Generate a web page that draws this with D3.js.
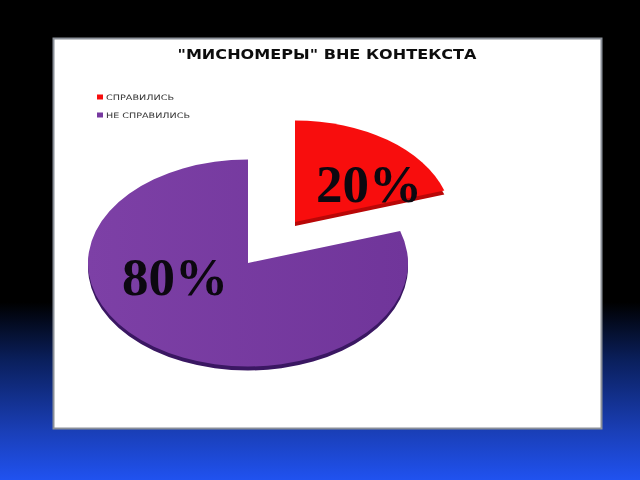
<!DOCTYPE html>
<html>
<head>
<meta charset="utf-8">
<script src="https://cdn.jsdelivr.net/npm/d3@7"></script>
<style>html,body{margin:0;padding:0;background:#000;overflow:hidden}svg{display:block}</style>
</head>
<body>
<script>
const categories = ["СПРАВИЛИСЬ", "НЕ СПРАВИЛИСЬ"];
const values = [20, 80];
const valueLabels = ["20%", "80%"];
const colors = ["#f80d0d", "url(#purple)"];
const swatches = ["#f80d0d", "#7739a0"];
const rimColors = ["#b90707", "#3a1762"];
const titleText = '"МИСНОМЕРЫ" ВНЕ КОНТЕКСТА';

const svg = d3.select("body").append("svg").attr("width", 640).attr("height", 480);
const defs = svg.append("defs");
const bg = defs.append("linearGradient").attr("id", "bg").attr("x1", 0).attr("x2", 0).attr("y1", 0).attr("y2", 1);
[[0, "#000"], [0.63, "#000"], [0.75, "#0a1f5c"], [0.9, "#1a3fb8"], [1, "#2052f0"]]
  .forEach(([o, c]) => bg.append("stop").attr("offset", o).attr("stop-color", c));
const pg = defs.append("linearGradient").attr("id", "purple").attr("x1", 0).attr("x2", 1).attr("y1", 0).attr("y2", 0);
[[0, "#7d40a6"], [1, "#70359a"]]
  .forEach(([o, c]) => pg.append("stop").attr("offset", o).attr("stop-color", c));
const soft = defs.append("filter").attr("id", "soft");
soft.append("feGaussianBlur").attr("stdDeviation", 0.35);
const softer = defs.append("filter").attr("id", "softer");
softer.append("feGaussianBlur").attr("stdDeviation", 0.5);

svg.append("rect").attr("width", 640).attr("height", 480).attr("fill", "url(#bg)");
svg.append("rect").attr("x", 53.5).attr("y", 38.5).attr("width", 548).attr("height", 390)
  .attr("fill", "#fff").attr("stroke", "#8a8f98").attr("stroke-width", 2);

svg.append("text").attr("x", 327).attr("y", 59).attr("text-anchor", "middle")
  .attr("font-family", "DejaVu Sans").attr("font-weight", "bold").attr("font-size", 13.5)
  .attr("textLength", 299).attr("lengthAdjust", "spacingAndGlyphs")
  .attr("fill", "#111").attr("filter", "url(#soft)").text(titleText);

const legend = svg.append("g").selectAll("g").data(categories).join("g")
  .attr("transform", (d, i) => `translate(97,${97 + i * 18})`);
legend.append("rect").attr("x", 0).attr("y", -2.5).attr("width", 6).attr("height", 5)
  .attr("fill", (d, i) => swatches[i]);
legend.append("text").attr("x", 9).attr("y", 3)
  .attr("font-family", "DejaVu Sans").attr("font-size", 7.5)
  .attr("textLength", (d, i) => i === 0 ? 68 : 84).attr("lengthAdjust", "spacingAndGlyphs")
  .attr("fill", "#333").attr("filter", "url(#softer)").text(d => d);

const rx = 160, ry = 103.5, depth = 4;
const radii = [157, 160];
const pie = d3.pie().sort(null).value(d => d);
const arcs = pie(values);
const centers = [[295, 222], [248, 263]];
const arcFor = (d, i) => d3.arc().innerRadius(0).outerRadius(radii[i])(d);

const slices = svg.selectAll("g.slice").data(arcs).join("g").attr("class", "slice");
slices.append("path")
  .attr("transform", (d, i) => `translate(${centers[i][0]},${centers[i][1] + depth}) scale(1,${ry / rx})`)
  .attr("d", arcFor).attr("fill", (d, i) => rimColors[i]);
slices.append("path")
  .attr("transform", (d, i) => `translate(${centers[i][0]},${centers[i][1]}) scale(1,${ry / rx})`)
  .attr("d", arcFor).attr("fill", (d, i) => colors[i]);

const labelPos = [[316, 202], [122, 295]];
svg.selectAll("text.val").data(valueLabels).join("text").attr("class", "val")
  .attr("x", (d, i) => labelPos[i][0]).attr("y", (d, i) => labelPos[i][1])
  .attr("font-family", "Liberation Serif").attr("font-weight", "bold").attr("font-size", 53)
  .attr("fill", "#0c0810").text(d => d);
</script>
</body>
</html>
